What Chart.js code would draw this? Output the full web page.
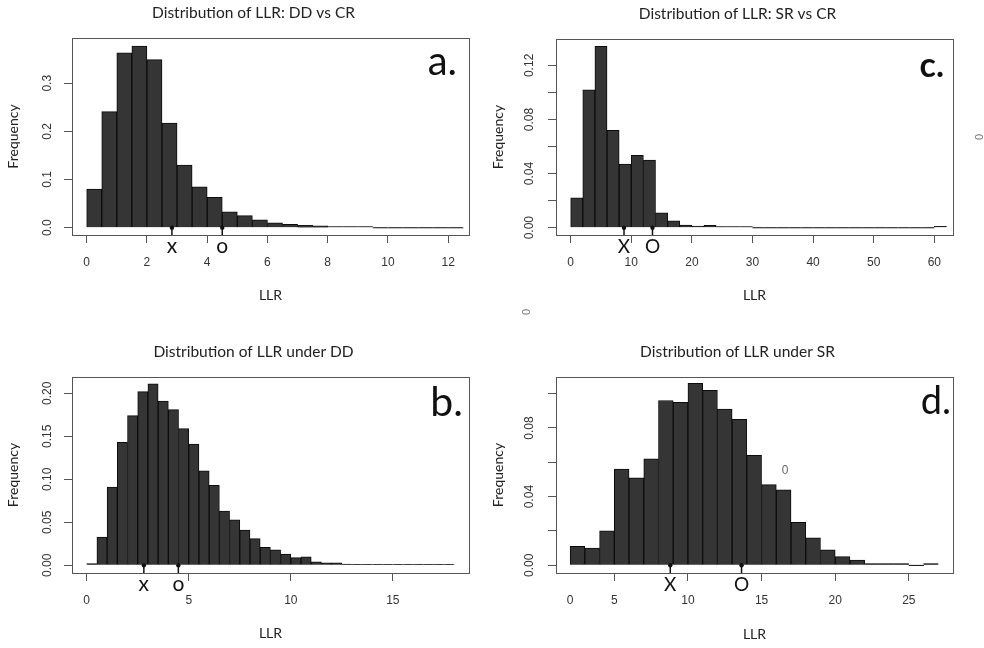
<!DOCTYPE html>
<html><head><meta charset="utf-8">
<script src="https://cdn.jsdelivr.net/npm/chart.js@4.4.1/dist/chart.umd.min.js"></script>
<style>
html,body{margin:0;padding:0;background:#fff;}
body{width:984px;height:648px;position:relative;overflow:hidden;}
canvas{position:absolute;}
</style></head>
<body>
<canvas id="cA" width="490" height="320" style="left:0px;top:0px"></canvas>
<canvas id="cC" width="494" height="320" style="left:490px;top:0px"></canvas>
<canvas id="cB" width="490" height="328" style="left:0px;top:320px"></canvas>
<canvas id="cD" width="494" height="328" style="left:490px;top:320px"></canvas>
<script>
// ---------- DATA ----------
// a. DD vs CR (bins of width 0.5 starting at 0)
const binStartA = 0, binWidthA = 0.5;
const freqA = [0.080,0.241,0.363,0.377,0.349,0.217,0.130,0.085,0.063,0.033,0.025,0.016,0.010,0.007,0.005,0.0035,0.002,0.002,0.0005,0,0,0,0,0,0];
const xTicksA = [0,2,4,6,8,10,12];
const xLabelsA = ['0','2','4','6','8','10','12'];
const yTicksA = [0,0.1,0.2,0.3];
const yLabelsA = ['0.0','0.1','0.2','0.3'];
const markLabelsA = ['x','o'];
const markValuesA = [2.83,4.5];

// b. under DD (bins of width 0.5 starting at 0)
const binStartB = 0, binWidthB = 0.5;
const freqB = [0.002,0.033,0.091,0.143,0.174,0.202,0.211,0.191,0.181,0.159,0.141,0.110,0.093,0.063,0.053,0.041,0.031,0.021,0.018,0.013,0.009,0.010,0.004,0.003,0.003,0.0015,0.001,0.0005,0.001,0.0008,0.0003,0.0003,0.0006,0.0003,0.0003,0.0006];
const xTicksB = [0,5,10,15];
const xLabelsB = ['0','5','10','15'];
const yTicksB = [0,0.05,0.10,0.15,0.20];
const yLabelsB = ['0.00','0.05','0.10','0.15','0.20'];
const markLabelsB = ['x','o'];
const markValuesB = [2.8,4.49];

// c. SR vs CR (bins of width 2 starting at 0)
const binStartC = 0, binWidthC = 2;
const freqC = [0.022,0.102,0.134,0.072,0.047,0.0535,0.050,0.011,0.005,0.002,0.0012,0.0017,0.0002,0.0002,0.0008,0,0,0,0,0,0,0,0,0,0,0,0,0,0,0,0.001];
const xTicksC = [0,10,20,30,40,50,60];
const xLabelsC = ['0','10','20','30','40','50','60'];
const yTicksC = [0,0.02,0.04,0.06,0.08,0.10,0.12];
const yLabelsC = ['0.00','','0.04','','0.08','','0.12'];
const markLabelsC = ['X','O'];
const markValuesC = [8.8,13.5];

// d. under SR (bins of width 1 starting at 2)
const binStartD = 2, binWidthD = 1;
const freqD = [0.011,0.010,0.020,0.056,0.051,0.062,0.096,0.095,0.106,0.102,0.091,0.085,0.064,0.047,0.044,0.025,0.016,0.009,0.005,0.003,0.001,0.001,0.001,0,0.001];
const xTicksD = [2,5,10,15,20,25];
const xLabelsD = ['0','5','10','15','20','25'];
const xTickMarksD = [false,true,true,true,true,true];
const yTicksD = [0,0.02,0.04,0.06,0.08,0.10];
const yLabelsD = ['0.00','','0.04','','0.08',''];
const markLabelsD = ['X','O'];
const markValuesD = [8.8,13.64];
const strayTextD = ['0'];
const strayXD = [16.6];
const strayYD = [0.055];

// ---------- DRAWING ----------
const TXT = '#222';
const AXC = '#555';
const TICKFONT = {family:'"Liberation Sans", Arial, sans-serif', size:12};
const LABFONT = {family:'Lato, "Open Sans", sans-serif', size:14};

function panelPlugin(p){
  return {
    id:'panelDeco_'+p.id,
    afterDraw(chart){
      const ctx = chart.ctx, a = chart.chartArea;
      const xs = chart.scales.x, ys = chart.scales.y;
      ctx.save();
      // frame
      ctx.strokeStyle = AXC; ctx.lineWidth = 1;
      ctx.strokeRect(Math.round(a.left)+0.5, Math.round(a.top)+0.5, Math.round(a.right-a.left), Math.round(a.bottom-a.top));
      // title
      ctx.fillStyle = TXT;
      ctx.font = '15.5px Lato, "Open Sans", sans-serif';
      ctx.textAlign = 'center'; ctx.textBaseline = 'middle';
      ctx.fillText(p.title, (a.left+a.right)/2 - 17, a.top - 25);
      // panel letter
      ctx.font = p.letterFont;
      ctx.textAlign = 'right'; ctx.textBaseline = 'alphabetic';
      ctx.fillStyle = '#111';
      ctx.fillText(p.letter, a.right - p.letterInset, a.top + p.letterBase);
      // markers x / o
      const y0 = ys.getPixelForValue(0);
      p.markValues.forEach((v,i)=>{
        const px = xs.getPixelForValue(v);
        ctx.strokeStyle = '#111'; ctx.lineWidth = 1.5;
        ctx.beginPath(); ctx.moveTo(px, y0); ctx.lineTo(px, a.bottom); ctx.stroke();
        ctx.fillStyle = '#111';
        ctx.beginPath(); ctx.arc(px, y0, 2.2, 0, Math.PI*2); ctx.fill();
        ctx.font = p.markFont; ctx.textAlign = 'center'; ctx.textBaseline = 'alphabetic';
        ctx.fillText(p.markLabels[i], px, a.bottom + 18);
      });
      // stray text inside plot
      if (p.stray) {
        ctx.fillStyle = '#666'; ctx.font = '12px "Liberation Sans", Arial, sans-serif';
        ctx.textAlign = 'center'; ctx.textBaseline = 'middle';
        p.stray.text.forEach((t,i)=>ctx.fillText(t, xs.getPixelForValue(p.stray.x[i]), ys.getPixelForValue(p.stray.y[i])));
      }
      // stray rotated text outside plot
      if (p.strayRot) {
        ctx.fillStyle = '#777'; ctx.font = '11px "Liberation Sans", Arial, sans-serif';
        ctx.textAlign = 'center'; ctx.textBaseline = 'middle';
        p.strayRot.forEach(s=>{ ctx.save(); ctx.translate(s[0], s[1]); ctx.rotate(-Math.PI/2); ctx.fillText('0',0,0); ctx.restore(); });
      }
      ctx.restore();
    }
  };
}

function makePanel(p){
  const c = document.getElementById(p.id);
  const W = c.width, H = c.height;
  const data = p.freq.map((v,i)=>({x: p.binStart + (i+0.5)*p.binWidth, y: v}));
  new Chart(c, {
    type:'bar',
    data:{datasets:[{data, backgroundColor:'#353535', borderColor:'#0c0c0c', borderWidth:1,
      barPercentage:1, categoryPercentage:1, minBarLength:1, grouped:false}]},
    options:{
      responsive:false, animation:false, devicePixelRatio:1,
      layout:{padding:{top:p.box.top, right:W-p.box.right, left:0, bottom:0}},
      plugins:{legend:{display:false}, tooltip:{enabled:false}, title:{display:false}},
      scales:{
        x:{type:'linear', min:p.xMin, max:p.xMax, offset:false,
          afterBuildTicks:s=>{ s.ticks = p.xTicks.map(v=>({value:v})); },
          afterFit:s=>{ s.height = H - p.box.bottom; },
          grid:{drawOnChartArea:false, drawTicks:true, tickLength:8, offset:false,
            tickColor:ctx=> (p.xTickMarks && ctx.index!=null && p.xTickMarks[ctx.index]===false) ? 'rgba(0,0,0,0)' : AXC, tickWidth:1},
          border:{display:false},
          ticks:{autoSkip:false, maxRotation:0, minRotation:0, padding:12, color:'#333', font:TICKFONT,
            callback:(v,i)=>p.xLabels[i]},
          title:{display:true, text:'LLR', color:TXT, font:LABFONT, padding:{top:0,bottom:p.xTitlePad}}
        },
        y:{type:'linear', min:p.yMin, max:p.yMax,
          afterBuildTicks:s=>{ s.ticks = p.yTicks.map(v=>({value:v})); },
          afterFit:s=>{ s.width = p.box.left; },
          grid:{drawOnChartArea:false, drawTicks:true, tickLength:8, tickColor:AXC, tickWidth:1},
          border:{display:false},
          ticks:{autoSkip:false, minRotation:90, maxRotation:90, crossAlign:'center', padding:p.yTickPad,
            color:'#333', font:TICKFONT, callback:(v,i)=>p.yLabels[i]},
          title:{display:true, text:'Frequency', color:TXT, font:LABFONT, padding:{top:p.yTitlePad,bottom:0}}
        }
      }
    },
    plugins:[panelPlugin(p)]
  });
}

makePanel({id:'cA', title:'Distribution of LLR: DD vs CR', letter:'a.', letterFont:'400 40px Lato, sans-serif', letterInset:12, letterBase:37,
  box:{left:72,right:469,top:38,bottom:235}, xMin:-0.487, xMax:12.69, yMin:-0.0153, yMax:0.394,
  binStart:binStartA, binWidth:binWidthA, freq:freqA, xTicks:xTicksA, xLabels:xLabelsA,
  yTicks:yTicksA, yLabels:yLabelsA, markLabels:markLabelsA, markValues:markValuesA, markFont:'21px Lato, sans-serif',
  yTickPad:7.6, yTitlePad:5.3, xTitlePad:16.6});

makePanel({id:'cC', title:'Distribution of LLR: SR vs CR', letter:'c.', letterFont:'700 34px Lato, sans-serif', letterInset:9, letterBase:38,
  box:{left:66,right:463,top:39,bottom:235}, xMin:-2.42, xMax:63.08, yMin:-0.0054, yMax:0.1395,
  binStart:binStartC, binWidth:binWidthC, freq:freqC, xTicks:xTicksC, xLabels:xLabelsC,
  yTicks:yTicksC, yLabels:yLabelsC, markLabels:markLabelsC, markValues:markValuesC, markFont:'19px Lato, sans-serif',
  yTickPad:6.3, yTitlePad:0, xTitlePad:16.6, strayRot:[[490,137],[37,312]]});

makePanel({id:'cB', title:'Distribution of LLR under DD', letter:'b.', letterFont:'400 41px Lato, sans-serif', letterInset:6, letterBase:39,
  box:{left:72,right:469,top:57,bottom:253}, xMin:-0.72, xMax:18.73, yMin:-0.0089, yMax:0.219,
  binStart:binStartB, binWidth:binWidthB, freq:freqB, xTicks:xTicksB, xLabels:xLabelsB,
  yTicks:yTicksB, yLabels:yLabelsB, markLabels:markLabelsB, markValues:markValuesB, markFont:'21px Lato, sans-serif',
  yTickPad:4.3, yTitlePad:5.3, xTitlePad:6.6});

makePanel({id:'cD', title:'Distribution of LLR under SR', letter:'d.', letterFont:'400 38px Lato, sans-serif', letterInset:2, letterBase:37,
  box:{left:66,right:463,top:57,bottom:253}, xMin:1.04, xMax:28.0, yMin:-0.0045, yMax:0.1097,
  binStart:binStartD, binWidth:binWidthD, freq:freqD, xTicks:xTicksD, xLabels:xLabelsD, xTickMarks:xTickMarksD,
  yTicks:yTicksD, yLabels:yLabelsD, markLabels:markLabelsD, markValues:markValuesD, markFont:'19px Lato, sans-serif',
  yTickPad:6.3, yTitlePad:0, xTitlePad:5.6, stray:{text:strayTextD, x:strayXD, y:strayYD}});
</script>
</body></html>
